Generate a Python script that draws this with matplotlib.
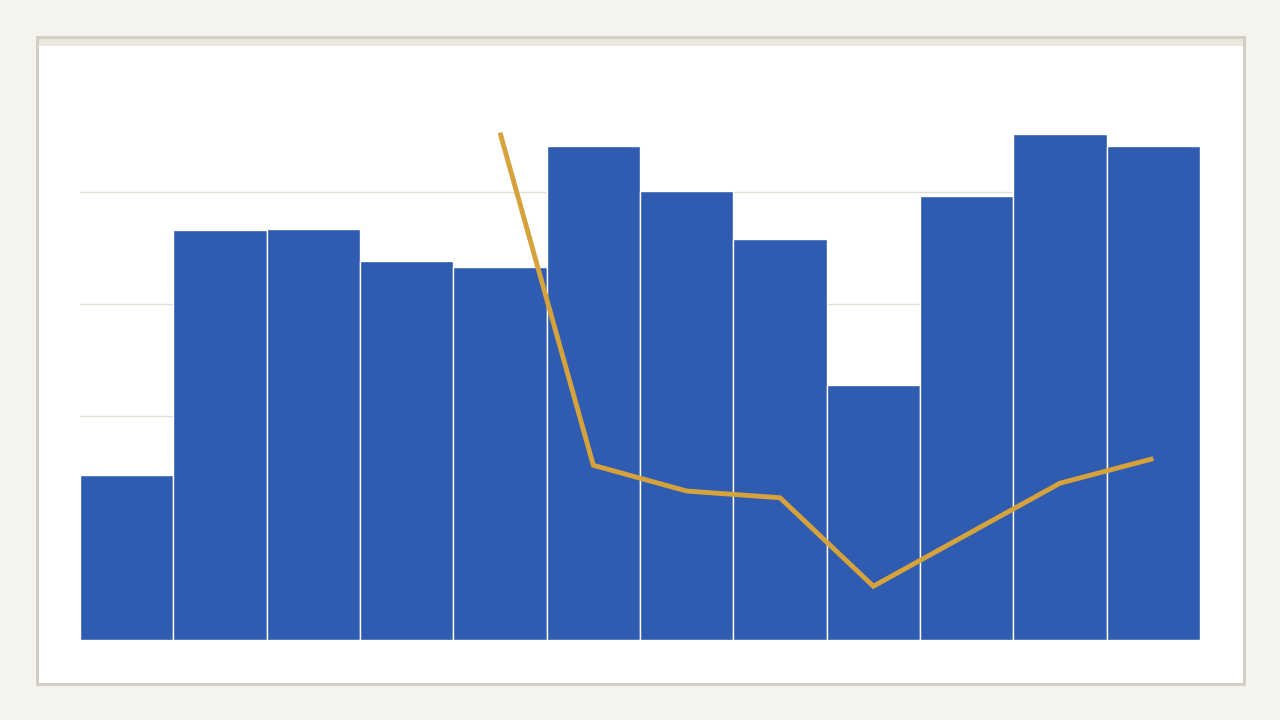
import matplotlib
matplotlib.use("Agg")
import matplotlib.pyplot as plt
from matplotlib.patches import Rectangle
import numpy as np

categories = list(range(12))
bar_values = [147, 366, 367, 338, 333, 441, 401, 358, 228, 396, 452, 441]
line_values = [np.nan, np.nan, np.nan, np.nan, 453, 156, 133, 127, 48, 94, 140, 162]
yticks = [0, 100, 200, 300, 400]

BG = "#F5F3EE"
BORDER = "#D3CEC4"
STRIP = "#ECE7DE"
BAR = "#2F5BB0"
LINE = "#D6A23B"
GRID = "#E2DFD5"

fig = plt.figure(figsize=(12.8, 7.2), dpi=100, facecolor=BG)
W, H = 1280, 720


def frect(x0, y0, x1, y1, color, z):
    # pixel coords from top-left
    fig.patches.append(Rectangle((x0 / W, (H - y1) / H), (x1 - x0) / W, (y1 - y0) / H,
                                 transform=fig.transFigure, facecolor=color,
                                 edgecolor="none", linewidth=0, zorder=z))


frect(36, 36, 1246, 686, BORDER, -3)
frect(39, 39, 1243, 683, "white", -2)
frect(39, 39, 1243, 46, STRIP, -1)

ax = fig.add_axes([80 / W, 80 / H, 1120 / W, 560 / H])
ax.set_zorder(1)
ax.set_facecolor("none")
x = np.arange(len(categories))
ax.bar(x, bar_values, width=1.0, color=BAR, edgecolor="white", linewidth=1.0, zorder=2)
ax.plot(x, line_values, color=LINE, linewidth=3.5, zorder=3, solid_joinstyle="miter",
        solid_capstyle="butt")
ax.set_xlim(-0.5, 11.5)
ax.set_ylim(0, 500)
ax.set_yticks(yticks)
ax.grid(axis="y", color=GRID, linewidth=1, zorder=0)
ax.set_axisbelow(True)
ax.tick_params(left=False, bottom=False, labelleft=False, labelbottom=False)
for s in ax.spines.values():
    s.set_visible(False)

fig.savefig("out.png", dpi=100, facecolor=BG)
